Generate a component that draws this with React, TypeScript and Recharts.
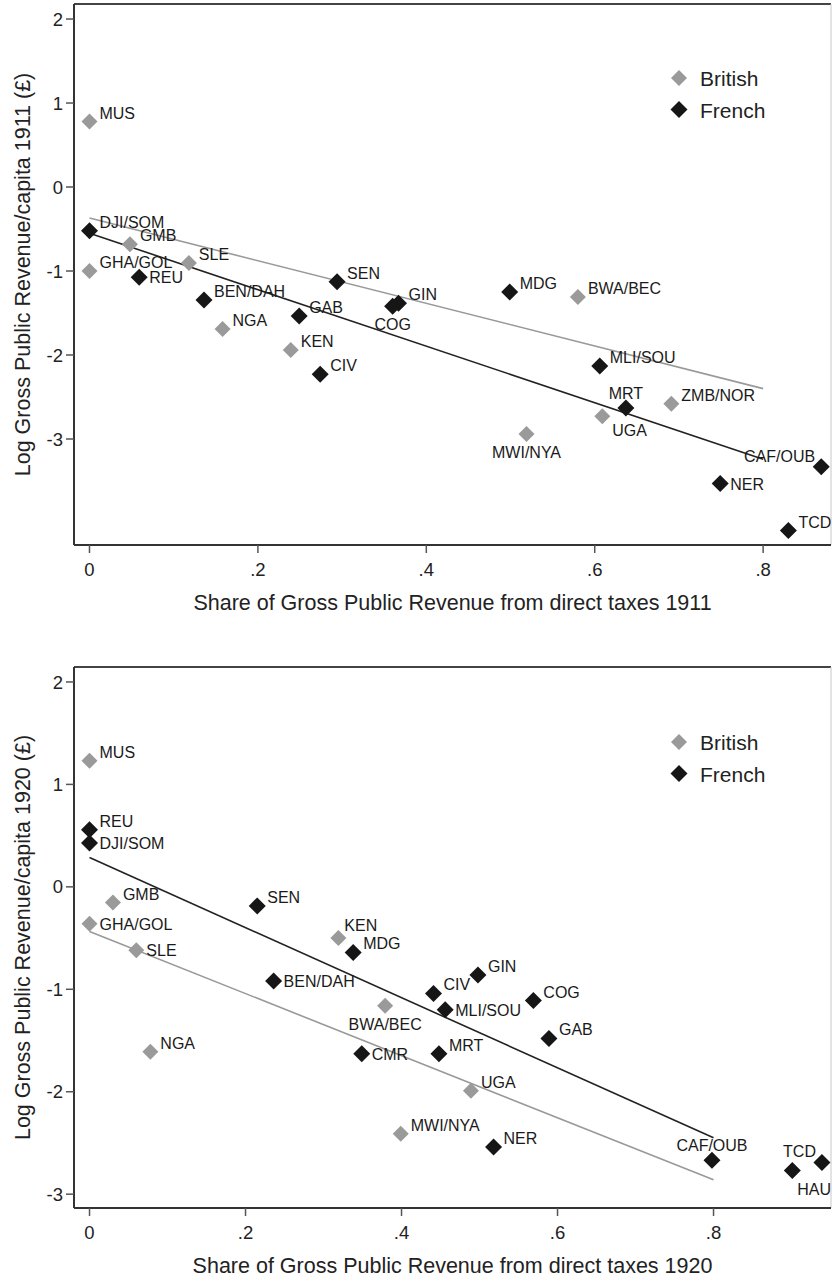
import { ScatterChart, Scatter, XAxis, YAxis, ReferenceLine, Legend } from "recharts";

const FONT = '"Liberation Sans", Arial, Helvetica, sans-serif';
const GREY = "#9a9a9a";
const BLACK = "#161616";

// ---- 1911 ----
const CODES_1911_BRITISH = ["MUS", "GMB", "GHA/GOL", "SLE", "NGA", "KEN", "BWA/BEC", "ZMB/NOR", "UGA", "MWI/NYA"];
const SHARE_1911_BRITISH = [0, 0.048, 0, 0.118, 0.158, 0.239, 0.58, 0.691, 0.609, 0.519];
const LOGREV_1911_BRITISH = [0.78, -0.68, -1.0, -0.905, -1.69, -1.94, -1.31, -2.58, -2.73, -2.94];

const CODES_1911_FRENCH = ["DJI/SOM", "REU", "BEN/DAH", "SEN", "GAB", "COG", "GIN", "CIV", "MDG", "MLI/SOU", "MRT", "CAF/OUB", "NER", "TCD"];
const SHARE_1911_FRENCH = [0, 0.059, 0.136, 0.294, 0.249, 0.36, 0.367, 0.274, 0.499, 0.606, 0.637, 0.869, 0.749, 0.83];
const LOGREV_1911_FRENCH = [-0.52, -1.075, -1.345, -1.127, -1.536, -1.42, -1.385, -2.23, -1.25, -2.13, -2.63, -3.33, -3.53, -4.09];

// ---- 1920 ----
const CODES_1920_BRITISH = ["MUS", "GMB", "GHA/GOL", "SLE", "KEN", "BWA/BEC", "NGA", "MWI/NYA", "UGA"];
const SHARE_1920_BRITISH = [0, 0.03, 0, 0.06, 0.319, 0.379, 0.078, 0.399, 0.489];
const LOGREV_1920_BRITISH = [1.23, -0.153, -0.36, -0.62, -0.5, -1.16, -1.61, -2.41, -1.99];

const CODES_1920_FRENCH = ["REU", "DJI/SOM", "SEN", "MDG", "BEN/DAH", "CMR", "GIN", "CIV", "MLI/SOU", "COG", "GAB", "MRT", "NER", "CAF/OUB", "HAU", "TCD"];
const SHARE_1920_FRENCH = [0, 0, 0.215, 0.338, 0.236, 0.349, 0.498, 0.441, 0.456, 0.569, 0.589, 0.448, 0.518, 0.798, 0.901, 0.939];
const LOGREV_1920_FRENCH = [0.557, 0.427, -0.186, -0.64, -0.918, -1.63, -0.86, -1.04, -1.2, -1.11, -1.48, -1.63, -2.54, -2.67, -2.77, -2.69];

// linear fits, drawn between the two end shares
const FIT_SHARE = [0, 0.8];
const FIT_1911_BRITISH = [-0.37, -2.4];
const FIT_1911_FRENCH = [-0.55, -3.24];
const FIT_1920_BRITISH = [-0.436, -2.86];
const FIT_1920_FRENCH = [0.286, -2.45];

const X_TICKS = [0, 0.2, 0.4, 0.6, 0.8];
const Y_TICKS = [-3, -2, -1, 0, 1, 2];

// marker label placement (clock positions), default is 2 o'clock
const LABEL_POS_1911 = { REU: 3, COG: 6, MRT: 12, UGA: 4, "MWI/NYA": 6, "CAF/OUB": 10, NER: 3 };
const LABEL_POS_1920 = {
  "DJI/SOM": 3, "GHA/GOL": 3, SLE: 3, "BEN/DAH": 3, "BWA/BEC": 6, CMR: 3, KEN: 1,
  "MLI/SOU": 3, "CAF/OUB": 12, TCD: 10, HAU: 5,
};

const CLOCK = {
  1: { dx: 6, dy: -7, anchor: "start" },
  2: { dx: 10, dy: -3, anchor: "start" },
  3: { dx: 10, dy: 6, anchor: "start" },
  4: { dx: 10, dy: 20, anchor: "start" },
  5: { dx: 5, dy: 24, anchor: "start" },
  6: { dx: 0, dy: 24, anchor: "middle" },
  10: { dx: -6, dy: -5, anchor: "end" },
  12: { dx: 0, dy: -9, anchor: "middle" },
};

const toPoints = (codes, xs, ys) => codes.map((code, i) => ({ code, x: xs[i], y: ys[i] }));
const toLine = (ys) => FIT_SHARE.map((x, i) => ({ x, y: ys[i] }));

const fmtShare = (v) => (v === 0 ? "0" : String(v).replace(/^0/, ""));

function diamond(color, r, positions) {
  return (props) => {
    const { cx, cy, payload } = props;
    const p = CLOCK[positions[payload.code] ?? 2];
    return (
      <g>
        <polygon
          points={`${cx},${cy - r} ${cx + r},${cy} ${cx},${cy + r} ${cx - r},${cy}`}
          fill={color}
        />
        <text
          x={cx + p.dx}
          y={cy + p.dy}
          textAnchor={p.anchor}
          fontSize={16}
          fontFamily={FONT}
          fill="#1a1a1a"
        >
          {payload.code}
        </text>
      </g>
    );
  };
}

const noShape = () => <g />;

const renderLegend = () => (
  <svg width={140} height={60} style={{ display: "block", overflow: "visible" }}>
    <polygon points="9,1 17,9 9,17 1,9" fill={GREY} />
    <text x={30} y={17} fontSize={21} fontFamily={FONT} fill="#222">British</text>
    <polygon points="9,32 17.5,40.5 9,49 0.5,40.5" fill={BLACK} />
    <text x={30} y={49} fontSize={21} fontFamily={FONT} fill="#222">French</text>
  </svg>
);

const WIDTH = 832;
const Y_AXIS_W = 74;

function Panel({ top, height, marginTop, xAxisH, xDomain, yDomain, british, french, fitB, fitF, positions, xTitle, yTitle, legendTop }) {
  const plotTop = marginTop;
  const plotBottom = height - xAxisH;
  const plotMid = (plotTop + plotBottom) / 2;
  const xMid = Y_AXIS_W + (WIDTH - 1 - Y_AXIS_W) / 2;

  return (
    <div style={{ position: "absolute", left: 0, top, width: WIDTH, height }}>
      <ScatterChart width={WIDTH} height={height} margin={{ top: marginTop, right: 1, bottom: 0, left: 0 }}>
        <XAxis
          type="number"
          dataKey="x"
          domain={xDomain}
          allowDataOverflow
          ticks={X_TICKS}
          interval={0}
          tickFormatter={fmtShare}
          height={xAxisH}
          tickSize={8}
          tickMargin={10}
          axisLine={{ stroke: "#333", strokeWidth: 2 }}
          tickLine={{ stroke: "#555", strokeWidth: 1.5 }}
          tick={{ fontSize: 18.5, fill: "#222", fontFamily: FONT }}
          label={() => (
            <text x={xMid} y={plotBottom + 65} textAnchor="middle" fontSize={21.5} fontFamily={FONT} fill="#222">
              {xTitle}
            </text>
          )}
        />
        <YAxis
          type="number"
          dataKey="y"
          domain={yDomain}
          allowDataOverflow
          ticks={Y_TICKS}
          interval={0}
          width={Y_AXIS_W}
          tickSize={8}
          tickMargin={3}
          axisLine={{ stroke: "#333", strokeWidth: 2 }}
          tickLine={{ stroke: "#555", strokeWidth: 1.5 }}
          tick={{ fontSize: 18.5, fill: "#222", fontFamily: FONT }}
          label={() => (
            <text
              x={29.5}
              y={plotMid}
              transform={`rotate(-90, 29.5, ${plotMid})`}
              textAnchor="middle"
              fontSize={21.5}
              fontFamily={FONT}
              fill="#222"
            >
              {yTitle}
            </text>
          )}
        />
        <ReferenceLine y={yDomain[1]} stroke="#444" strokeWidth={2} />
        <ReferenceLine x={xDomain[1]} stroke="#c8c8c8" strokeWidth={1} />
        <Scatter data={fitB} line={{ stroke: "#999", strokeWidth: 1.6 }} shape={noShape} legendType="none" isAnimationActive={false} />
        <Scatter data={fitF} line={{ stroke: "#222", strokeWidth: 1.6 }} shape={noShape} legendType="none" isAnimationActive={false} />
        <Scatter name="British" data={british} shape={diamond(GREY, 8, positions)} isAnimationActive={false} />
        <Scatter name="French" data={french} shape={diamond(BLACK, 8.5, positions)} isAnimationActive={false} />
        <Legend
          layout="vertical"
          align="center"
          verticalAlign="middle"
          content={renderLegend}
          wrapperStyle={{ left: 670, top: legendTop, width: 140, height: 60 }}
        />
      </ScatterChart>
    </div>
  );
}

export default function App() {
  return (
    <div style={{ position: "absolute", left: 0, top: 0, width: WIDTH, height: 1280, background: "#fff" }}>
      <Panel
        top={0}
        height={625}
        marginTop={4}
        xAxisH={80}
        xDomain={[-0.0184, 0.8806]}
        yDomain={[-4.262, 2.179]}
        british={toPoints(CODES_1911_BRITISH, SHARE_1911_BRITISH, LOGREV_1911_BRITISH)}
        french={toPoints(CODES_1911_FRENCH, SHARE_1911_FRENCH, LOGREV_1911_FRENCH)}
        fitB={toLine(FIT_1911_BRITISH)}
        fitF={toLine(FIT_1911_FRENCH)}
        positions={LABEL_POS_1911}
        xTitle="Share of Gross Public Revenue from direct taxes 1911"
        yTitle="Log Gross Public Revenue/capita 1911 (£)"
        legendTop={69}
      />
      <Panel
        top={625}
        height={655}
        marginTop={42}
        xAxisH={72}
        xDomain={[-0.0199, 0.9506]}
        yDomain={[-3.135, 2.146]}
        british={toPoints(CODES_1920_BRITISH, SHARE_1920_BRITISH, LOGREV_1920_BRITISH)}
        french={toPoints(CODES_1920_FRENCH, SHARE_1920_FRENCH, LOGREV_1920_FRENCH)}
        fitB={toLine(FIT_1920_BRITISH)}
        fitF={toLine(FIT_1920_FRENCH)}
        positions={LABEL_POS_1920}
        xTitle="Share of Gross Public Revenue from direct taxes 1920"
        yTitle="Log Gross Public Revenue/capita 1920 (£)"
        legendTop={108}
      />
    </div>
  );
}
